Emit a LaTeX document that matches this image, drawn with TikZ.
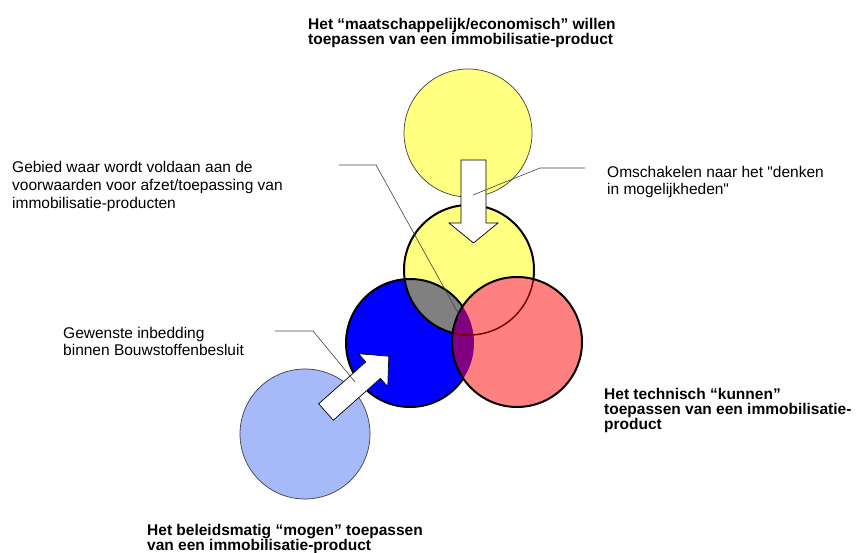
\documentclass[tikz,border=0pt]{standalone}
\usepackage{fontspec}
\setmainfont{Liberation Sans}[Ligatures=TeXOff]
\usepackage{tikz}
\usetikzlibrary{positioning}

\definecolor{geel}{RGB}{255,255,128}
\definecolor{blauw}{RGB}{0,0,255}
\definecolor{lichtblauw}{RGB}{166,186,250}
\definecolor{rood}{RGB}{255,128,128}
\definecolor{grijs}{RGB}{128,128,128}
\definecolor{paars}{RGB}{128,0,128}
\definecolor{donkerrood}{RGB}{128,0,0}

% blokpijl: lengte, halve schachtbreedte, halve kopbreedte, koplengte
\newcommand{\blokpijl}[4]{(0,-#2) -- ({#1-#4},-#2) -- ({#1-#4},-#3) -- (#1,0) -- ({#1-#4},#3) -- ({#1-#4},#2) -- (0,#2) -- cycle}

\begin{document}
\begin{tikzpicture}[x=1pt, y=1pt,
    tekst/.style={align=left, anchor=north west, inner sep=0pt, font={\fontsize{15.5}{18}\selectfont}},
    kop/.style={tekst, font={\bfseries\fontsize{15.5}{15}\selectfont}},
    lijn/.style={draw=black!75, line width=0.6pt},
    pijl/.style={fill=white, draw=black, line width=0.7pt},
    dikrand/.style={draw=black, line width=2pt},
    dunrand/.style={draw=black!75, line width=0.7pt}]
    \useasboundingbox (0,0) rectangle (858,553);

    % middelpunten van de cirkels
    \coordinate (geelboven) at (468,420);
    \coordinate (geel) at (469,283);
    \coordinate (blauw) at (410,210);
    \coordinate (rood) at (517,211);
    \coordinate (lichtblauw) at (305,119);

    \fill[geel, dunrand] (geelboven) circle[radius=64pt];
    \fill[lichtblauw, dunrand] (lichtblauw) circle[radius=65pt];

    \fill[geel] (geel) circle[radius=65pt];
    \fill[blauw] (blauw) circle[radius=64pt];
    \begin{scope}
        \clip (blauw) circle[radius=64pt];
        \fill[grijs] (geel) circle[radius=65pt];
    \end{scope}
    \draw[dikrand] (geel) circle[radius=65pt];
    \draw[dikrand] (blauw) circle[radius=64pt];

    \fill[rood] (rood) circle[radius=65pt];
    \begin{scope}
        \clip (rood) circle[radius=65pt];
        \fill[paars] (blauw) circle[radius=64pt];
        \draw[donkerrood, line width=1.5pt] (geel) circle[radius=65pt];
    \end{scope}
    \draw[dikrand] (rood) circle[radius=65pt];

    % pijlen
    \begin{scope}[shift={(473.5,393)}, rotate=-90]
        \draw[pijl] \blokpijl{83}{12.5}{24.5}{20};
    \end{scope}
    \begin{scope}[shift={(326,141)}, rotate=41.6]
        \draw[pijl] \blokpijl{84}{11}{22}{21};
    \end{scope}

    % teksten
    \node[kop] (maatsch) at (308,535)
        {Het “maatschappelijk/economisch” willen\\toepassen van een immobilisatie-product};
    \node[tekst] (gebied) at (12,391.5)
        {Gebied waar wordt voldaan aan de\\voorwaarden voor afzet/toepassing van\\immobilisatie-producten};
    \node[tekst, font={\fontsize{15.5}{17}\selectfont}] (omschakel) at (607,387)
        {Omschakelen naar het "denken\\in mogelijkheden"};
    \node[tekst, font={\fontsize{15.5}{17}\selectfont}] (inbed) at (63,226)
        {Gewenste inbedding\\binnen Bouwstoffenbesluit};
    \node[kop] (techn) at (604,165)
        {Het technisch “kunnen”\\toepassen van een immobilisatie-\\product};
    \node[kop] (beleid) at (147,29)
        {Het beleidsmatig “mogen” toepassen\\van een immobilisatie-product};

    % verwijslijnen
    \coordinate (gebied-a) at (339,388);
    \coordinate (gebied-b) at (376,388);
    \coordinate (gebied-c) at (463,231);
    \coordinate (omsch-a) at (585,385);
    \coordinate (omsch-b) at (540,385);
    \coordinate (omsch-c) at (473,358);
    \coordinate (inbed-a) at (275,222);
    \coordinate (inbed-b) at (313,222);
    \coordinate (inbed-c) at (355,171);

    \draw[lijn] (gebied-a) -- (gebied-b) -- (gebied-c);
    \draw[lijn] (omsch-a) -- (omsch-b) -- (omsch-c);
    \draw[lijn] (inbed-a) -- (inbed-b) -- (inbed-c);

\end{tikzpicture}
\end{document}
